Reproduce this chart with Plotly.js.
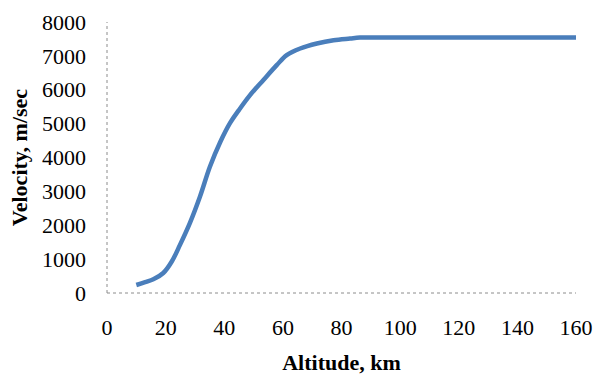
<!DOCTYPE html>
<html>
<head>
<meta charset="utf-8">
<script src="https://cdn.plot.ly/plotly-3.0.1.min.js"></script>
<style>html,body{margin:0;padding:0;background:#fff;}#chart{width:595px;height:378px;}</style>
</head>
<body>
<div id="chart"></div>
<script>
const altitudeKm = [10, 13, 15.8, 19.2, 22.1, 24.9, 28.3, 31.7, 35.1, 38.6, 42, 45, 48.8, 53.3, 57.9, 61.3, 65.9, 71.6, 77.3, 82.9, 86.3, 100, 120, 140, 160];
const velocityMs = [236, 320, 404, 590, 930, 1420, 2070, 2841, 3726, 4450, 5020, 5400, 5841, 6283, 6726, 7021, 7218, 7366, 7463, 7513, 7540, 7540, 7540, 7540, 7540];
const xTicks = [0, 20, 40, 60, 80, 100, 120, 140, 160];
const yTicks = [0, 1000, 2000, 3000, 4000, 5000, 6000, 7000, 8000];

const serif = "'Liberation Serif', 'Times New Roman', serif";
const trace = {
  x: altitudeKm, y: velocityMs, type: 'scatter', mode: 'lines',
  line: {color: '#4a7ebb', width: 4.5, shape: 'spline', smoothing: 1},
  hoverinfo: 'skip'
};
const layout = {
  width: 595, height: 378,
  margin: {l: 107, r: 19, t: 22, b: 85},
  paper_bgcolor: '#fff', plot_bgcolor: '#fff',
  showlegend: false,
  font: {family: serif, color: '#000', size: 22},
  xaxis: {
    range: [0, 160], tickvals: xTicks, ticktext: xTicks.map(String),
    showgrid: false, zeroline: false, showline: false, ticks: '',
    ticklabelstandoff: 19,
    tickfont: {family: serif, size: 22, color: '#000'},
    title: {text: '<b>Altitude, km</b>', font: {family: serif, size: 22, color: '#000'}, standoff: 15}
  },
  yaxis: {
    range: [0, 8000], tickvals: yTicks, ticktext: yTicks.map(String),
    showgrid: false, zeroline: false, showline: false, ticks: '',
    ticklabelstandoff: 20,
    tickfont: {family: serif, size: 22, color: '#000'},
    title: {text: '<b>Velocity, m/sec</b>', font: {family: serif, size: 22, color: '#000'}, standoff: 8}
  },
  shapes: [
    {type: 'line', xref: 'paper', yref: 'paper', x0: 0, x1: 1, y0: 0, y1: 0, line: {color: '#8c8c8c', width: 1, dash: 'dot'}},
    {type: 'line', xref: 'paper', yref: 'paper', x0: 0, x1: 0, y0: 0, y1: 1, line: {color: '#8c8c8c', width: 1, dash: 'dot'}}
  ]
};
Plotly.newPlot('chart', [trace], layout, {displayModeBar: false, staticPlot: true});
</script>
</body>
</html>
